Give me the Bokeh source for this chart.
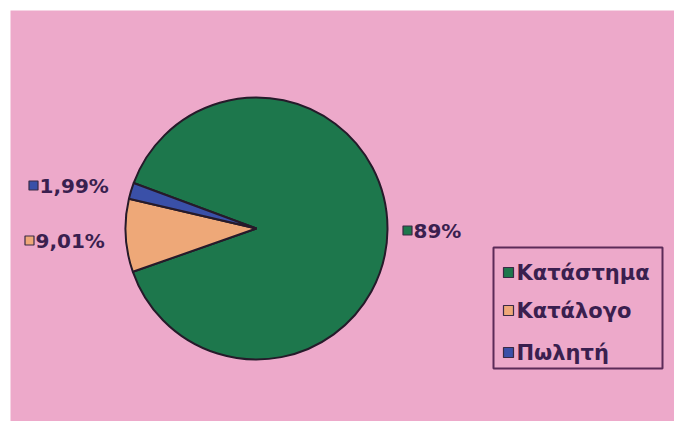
import math
from bokeh.plotting import figure
from bokeh.models import Range1d, ColumnDataSource
from bokeh.core.properties import value
from bokeh.embed import file_html
from bokeh.resources import INLINE

# ---- data ----
categories = ["Κατάστημα", "Κατάλογο", "Πωλητή"]
shares = [89.0, 9.01, 1.99]
colors = ["#1d774c", "#eea878", "#3a50a8"]

W, H = 674, 421
PINK = "#eda9ca"
TXT = "#3a1f4f"
FONT = value("DejaVu Sans")

def Y(py):
    return H - py  # pixel row -> data y

p = figure(width=W, height=H, output_backend="svg", toolbar_location=None,
           x_range=Range1d(10, W), y_range=Range1d(0, H - 10),
           min_border_left=10, min_border_top=10, min_border_right=0, min_border_bottom=0)
p.axis.visible = False
p.grid.visible = False
p.outline_line_color = None
p.background_fill_color = PINK
p.border_fill_color = "white"

# ---- pie ----
cx, cy, r = 256, Y(228), 131
first_angle = 159.7  # degrees, slices run clockwise from here
starts, ends = [], []
acc = 0.0
for v in shares:
    a0 = first_angle - acc * 3.6
    a1 = a0 - v * 3.6
    starts.append(math.radians(a1))
    ends.append(math.radians(a0))
    acc += v

src = ColumnDataSource(dict(start=starts, end=ends, color=colors, cat=categories))
p.wedge(x=cx, y=cy, radius=r, start_angle="start", end_angle="end",
        fill_color="color", line_color="#261a2a", line_width=2, source=src)

# ---- data labels ----
def fmt(v):
    if abs(v - round(v)) < 1e-9:
        return f"{int(round(v))}%"
    return f"{v:.2f}".replace(".", ",") + "%"

# label anchors (marker centre in pixels): Κατάστημα right of pie, the others left
lab_pos = {0: (407, 230), 1: (29, 240), 2: (33, 185)}
lx = [lab_pos[i][0] for i in range(3)]
ly = [Y(lab_pos[i][1]) for i in range(3)]
lsrc = ColumnDataSource(dict(x=lx, y=ly, tx=[x + 6 for x in lx], txt=[fmt(v) for v in shares], color=colors))
p.scatter(x="x", y="y", size=9, marker="square", fill_color="color",
          line_color="#3a2a45", line_width=1.2, source=lsrc)
p.text(x="tx", y="y", text="txt", text_font=FONT, text_font_style="bold",
       text_font_size="20px", text_color=TXT, text_baseline="middle", text_align="left",
       source=lsrc)

# ---- legend ----
p.quad(left=493, right=662, top=Y(247), bottom=Y(368), fill_color=PINK,
       line_color="#5c2b58", line_width=2)
leg_rows = [272, 310, 352]
gsrc = ColumnDataSource(dict(x=[508] * 3, y=[Y(v) for v in leg_rows], tx=[516] * 3,
                             txt=categories, color=colors))
p.scatter(x="x", y="y", size=10, marker="square", fill_color="color",
          line_color="#3a2a45", line_width=1.2, source=gsrc)
p.text(x="tx", y="y", text="txt", text_font=FONT, text_font_style="bold",
       text_font_size="21px", text_color=TXT, text_baseline="middle", text_align="left",
       source=gsrc)

open("out.html", "w").write(file_html(p, INLINE))
